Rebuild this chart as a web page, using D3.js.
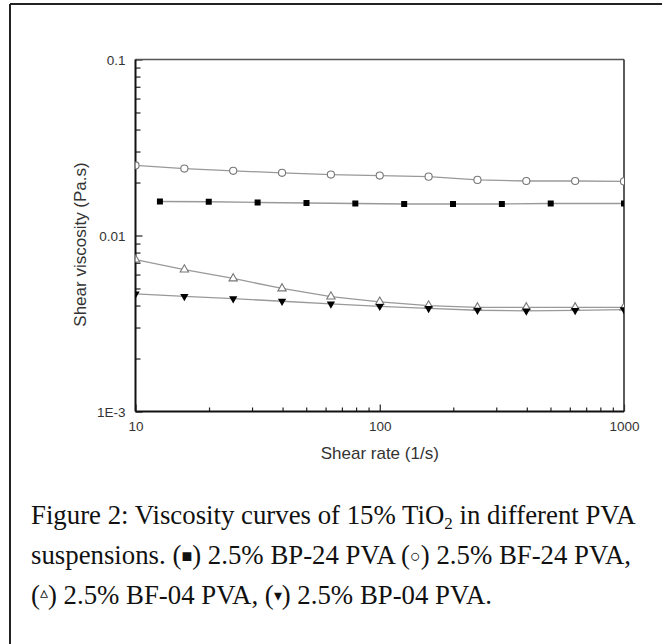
<!DOCTYPE html>
<html>
<head>
<meta charset="utf-8">
<script src="https://cdn.jsdelivr.net/npm/d3@7"></script>
<style>
  body { margin: 0; background: #fff; }
  svg { display: block; }
  .tick text { font-family: "Liberation Sans", Arial, sans-serif; fill: #333; }
</style>
</head>
<body>
<div id="chart-area"></div>
<script>
// Data (shear rate in 1/s, viscosity in Pa.s)
var rateA = [10, 15.85, 25.12, 39.81, 63.1, 100, 158.5, 251.2, 398.1, 631, 1000];
var rateB = [12.59, 19.95, 31.62, 50.12, 79.43, 125.9, 199.5, 316.2, 501.2, 1000];

var bp24 = [0.0156, 0.01555, 0.0154, 0.0153, 0.0152, 0.0151, 0.0151, 0.0151, 0.0152, 0.0152];
var bf24 = [0.0250, 0.0240, 0.0233, 0.0227, 0.0222, 0.0219, 0.0216, 0.0207, 0.0204, 0.0204, 0.0203];
var bf04 = [0.0073, 0.0064, 0.0057, 0.0050, 0.0045, 0.0042, 0.0040, 0.0039, 0.0039, 0.0039, 0.0039];
var bp04 = [0.00466, 0.00451, 0.00438, 0.00423, 0.00409, 0.00396, 0.00385, 0.00376, 0.00373, 0.00375, 0.00379];

var yMajor = [0.001, 0.01, 0.1];
var yMajorLabels = ["1E-3", "0.01", "0.1"];
var xMajor = [10, 100, 1000];
var xMajorLabels = ["10", "100", "1000"];

// Setting up svg area
var margin = { left: 135.5, right: 38, top: 59.5, bottom: 232.5 };
var W = 662, H = 644;
var width = W - margin.left - margin.right,
    height = H - margin.top - margin.bottom;

var svg = d3.select("#chart-area")
    .append("svg")
        .attr("width", W)
        .attr("height", H);

// outer frame (only top and left edges show)
svg.append("line").attr("x1", 10).attr("x2", W).attr("y1", 4).attr("y2", 4)
    .attr("stroke", "#222").attr("stroke-width", 2);
svg.append("line").attr("x1", 10).attr("x2", 10).attr("y1", 4).attr("y2", H)
    .attr("stroke", "#222").attr("stroke-width", 2);

var g = svg.append("g")
    .attr("transform", "translate(" + margin.left + ", " + margin.top + ")");

// Scales
var x = d3.scaleLog().domain([10, 1000]).range([0, width]);
var y = d3.scaleLog().domain([0.001, 0.1]).range([height, 0]);

// minor tick values
var yMinor = [], xMinor = [];
[0.001, 0.01].forEach(function(b) {
    for (var k = 2; k <= 9; k++) yMinor.push(b * k);
});
[10, 100].forEach(function(b) {
    for (var k = 2; k <= 9; k++) xMinor.push(b * k);
});

// Y axis
g.append("g")
    .call(d3.axisLeft(y).tickValues(yMinor).tickSize(-5).tickFormat(""))
    .call(function(s) { s.select(".domain").remove(); });
g.append("g")
    .call(d3.axisLeft(y).tickValues(yMajor).tickSize(-7).tickPadding(10)
        .tickFormat(function(d, i) { return yMajorLabels[i]; }))
    .call(function(s) { s.select(".domain").remove(); })
    .selectAll("text").attr("font-size", "13.5px").attr("dy", "0.36em");

// X axis
g.append("g")
    .attr("transform", "translate(0," + height + ")")
    .call(d3.axisBottom(x).tickValues(xMinor).tickSize(-4).tickFormat(""))
    .call(function(s) { s.select(".domain").remove(); });
g.append("g")
    .attr("transform", "translate(0," + height + ")")
    .call(d3.axisBottom(x).tickValues(xMajor).tickSize(-7).tickPadding(10)
        .tickFormat(function(d, i) { return xMajorLabels[i]; }))
    .call(function(s) { s.select(".domain").remove(); })
    .selectAll("text").attr("font-size", "13.5px");

g.selectAll(".tick line").attr("stroke", "#222").attr("stroke-width", 1.2);

// frame of plot
g.append("line").attr("x1", 0).attr("x2", width).attr("y1", 0).attr("y2", 0)
    .attr("stroke", "#555").attr("stroke-width", 1.5);
g.append("line").attr("x1", width).attr("x2", width).attr("y1", 0).attr("y2", height)
    .attr("stroke", "#333").attr("stroke-width", 1.6);
g.append("line").attr("x1", 0).attr("x2", 0).attr("y1", 0).attr("y2", height)
    .attr("stroke", "#111").attr("stroke-width", 2);
g.append("line").attr("x1", 0).attr("x2", width).attr("y1", height).attr("y2", height)
    .attr("stroke", "#111").attr("stroke-width", 2);

// X Label
g.append("text")
    .attr("x", width / 2)
    .attr("y", height + 47)
    .attr("font-size", "17px")
    .attr("font-family", "Liberation Sans, Arial, sans-serif")
    .attr("fill", "#333")
    .attr("text-anchor", "middle")
    .text("Shear rate (1/s)");

// Y Label
g.append("text")
    .attr("x", -(height / 2) - 9)
    .attr("y", -50)
    .attr("font-size", "17px")
    .attr("font-family", "Liberation Sans, Arial, sans-serif")
    .attr("fill", "#333")
    .attr("text-anchor", "middle")
    .attr("transform", "rotate(-90)")
    .text("Shear viscosity (Pa.s)");

// clip to the plot
svg.append("defs").append("clipPath").attr("id", "plot-clip")
    .append("rect").attr("width", width).attr("height", height);

var plot = g.append("g").attr("clip-path", "url(#plot-clip)");

var series = [
    { xs: rateB, ys: bp24, sym: d3.symbolSquare, size: 36, fill: "#000", stroke: "none", rot: 0 },
    { xs: rateA, ys: bf24, sym: d3.symbolCircle, size: 40, fill: "#fff", stroke: "#777", rot: 0 },
    { xs: rateA, ys: bf04, sym: d3.symbolTriangle, size: 30, fill: "#fff", stroke: "#777", rot: 0 },
    { xs: rateA, ys: bp04, sym: d3.symbolTriangle, size: 30, fill: "#000", stroke: "none", rot: 180 }
];

var line = d3.line()
    .x(function(d) { return x(d[0]); })
    .y(function(d) { return y(d[1]); });

series.forEach(function(s) {
    var pts = s.xs.map(function(v, i) { return [v, s.ys[i]]; });
    plot.append("path")
        .datum(pts)
        .attr("fill", "none")
        .attr("stroke", "#999")
        .attr("stroke-width", 1.3)
        .attr("d", line);
});

series.forEach(function(s) {
    var pts = s.xs.map(function(v, i) { return [v, s.ys[i]]; });
    plot.selectAll(null)
        .data(pts)
        .enter()
        .append("path")
            .attr("d", d3.symbol().type(s.sym).size(s.size))
            .attr("transform", function(d) {
                return "translate(" + x(d[0]) + "," + y(d[1]) + ") rotate(" + s.rot + ")";
            })
            .attr("fill", s.fill)
            .attr("stroke", s.stroke)
            .attr("stroke-width", 1.1);
});

// Caption
var cap = svg.append("text")
    .attr("font-family", "Liberation Serif, Times New Roman, serif")
    .attr("font-size", "26.8px")
    .attr("fill", "#111");

var l1 = cap.append("tspan").attr("x", 31).attr("y", 524);
l1.append("tspan").text("Figure 2: Viscosity curves of 15% TiO");
l1.append("tspan").attr("font-size", "17px").attr("dy", 5).text("2");
l1.append("tspan").attr("dy", -5).text(" in different PVA");

cap.append("tspan").attr("x", 31).attr("y", 564)
    .text("suspensions. (")
  .append("tspan").attr("font-size", "18px").attr("dy", -2).text("\u25A0")
  .select(function() { return this.parentNode; })
  .append("tspan").attr("dy", 2).text(") 2.5% BP-24 PVA (")
  .select(function() { return this.parentNode; })
  .append("tspan").attr("font-size", "18px").attr("dy", -2).text("\u25CB")
  .select(function() { return this.parentNode; })
  .append("tspan").attr("dy", 2).text(") 2.5% BF-24 PVA,");

cap.append("tspan").attr("x", 31).attr("y", 604)
    .text("(")
  .append("tspan").attr("font-size", "16px").attr("dy", -6).text("\u25B5")
  .select(function() { return this.parentNode; })
  .append("tspan").attr("dy", 6).text(") 2.5% BF-04 PVA, (")
  .select(function() { return this.parentNode; })
  .append("tspan").attr("font-size", "16px").attr("dy", -3).text("\u25BE")
  .select(function() { return this.parentNode; })
  .append("tspan").attr("dy", 3).text(") 2.5% BP-04 PVA.");
</script>
</body>
</html>
